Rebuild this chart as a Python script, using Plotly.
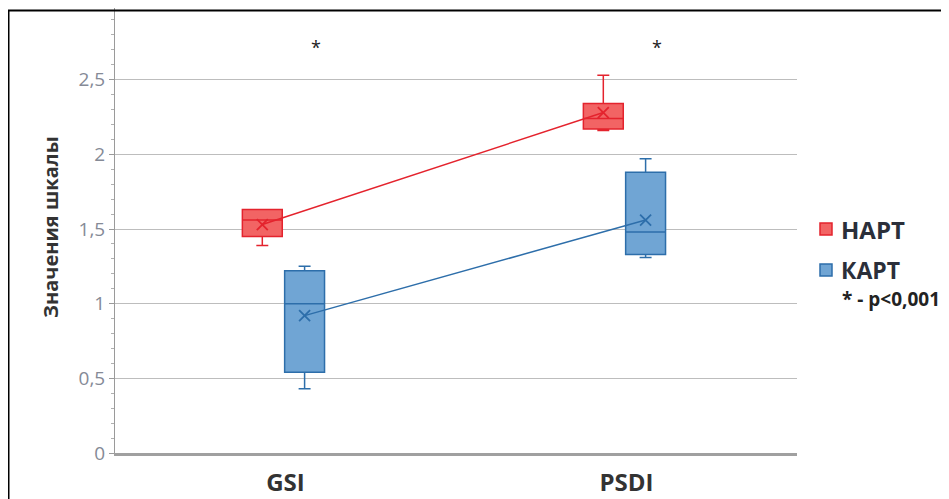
import plotly.graph_objects as go

categories = ["GSI", "PSDI"]
series_names = ["НАРТ", "КАРТ"]

hart_low = [1.39, 2.16]
hart_q1 = [1.45, 2.17]
hart_median = [1.56, 2.24]
hart_q3 = [1.63, 2.34]
hart_high = [1.63, 2.53]
hart_mean = [1.53, 2.28]

kart_low = [0.43, 1.31]
kart_q1 = [0.54, 1.33]
kart_median = [1.0, 1.48]
kart_q3 = [1.22, 1.88]
kart_high = [1.25, 1.97]
kart_mean = [0.92, 1.56]

y_ticks = [0, 0.5, 1, 1.5, 2, 2.5, 3]
y_title = "Значения шкалы"
sig_label = "*"
sig_level = 2.72
note_text = "* - p<0,001"

red_edge = "rgb(228,35,45)"
red_fill = "rgb(242,100,100)"
blue_edge = "rgb(45,110,170)"
blue_fill = "rgb(112,165,212)"

offsets = [-0.068, 0.056]
box_w = 0.117
idx = list(range(len(categories)))

# page is rendered with an 8px body margin; layout numbers below are page pixels
PL, PW, PB, PH = 115, 682, 453, 445


def px(x):
    return (x - PL) / PW


def py(y):
    return (PB - y) / PH


fig = go.Figure()

series = [
    (hart_low, hart_q1, hart_median, hart_q3, hart_high, hart_mean, red_edge, red_fill, offsets[0]),
    (kart_low, kart_q1, kart_median, kart_q3, kart_high, kart_mean, blue_edge, blue_fill, offsets[1]),
]
for name, (lo, q1, med, q3, hi, mn, edge, fill, off) in zip(series_names, series):
    xs = [i + off for i in idx]
    fig.add_trace(go.Box(
        x=xs, lowerfence=lo, q1=q1, median=med, q3=q3, upperfence=hi,
        width=box_w, whiskerwidth=0.3, fillcolor=fill,
        line=dict(color=edge, width=1.5), name=name, showlegend=False,
        hoverinfo="skip",
    ))
    fig.add_trace(go.Scatter(
        x=xs, y=mn, mode="lines+markers",
        line=dict(color=edge, width=1.5),
        marker=dict(symbol="x-thin-open", size=11, line=dict(color=edge, width=1.8)),
        showlegend=False, hoverinfo="skip",
    ))

# significance asterisks
for i in idx:
    fig.add_annotation(x=i + 0.09, y=sig_level, text=sig_label, showarrow=False,
                       font=dict(family="Open Sans", size=18, color="#222"))

# y axis title
fig.add_annotation(xref="paper", yref="paper", x=px(50), y=py(227), textangle=-90,
                   xanchor="center", yanchor="middle",
                   text="<b>%s</b>" % y_title, showarrow=False,
                   font=dict(family="Open Sans", size=20, color="#333"))

# legend (custom)
legend_items = [(series_names[0], red_edge, red_fill, 229, 24), (series_names[1], blue_edge, blue_fill, 270, 23)]
for label, edge, fill, cy, fs in legend_items:
    fig.add_shape(type="rect", xref="paper", yref="paper",
                  x0=px(820), x1=px(832), y0=py(cy + 6), y1=py(cy - 6),
                  fillcolor=fill, line=dict(color=edge, width=1.5))
    fig.add_annotation(xref="paper", yref="paper", x=px(839), y=py(cy),
                       xanchor="left", yanchor="middle", text="<b>%s</b>" % label,
                       showarrow=False,
                       font=dict(family="Open Sans", size=fs, color="#2b2f3a"))
fig.add_annotation(xref="paper", yref="paper", x=px(840), y=py(299),
                   xanchor="left", yanchor="middle", text="<b>%s</b>" % note_text,
                   showarrow=False,
                   font=dict(family="Open Sans", size=19, color="#222"))

# outer frame
fig.add_shape(type="rect", xref="paper", yref="paper",
              x0=px(8.5), x1=1.4, y0=-0.3, y1=py(10.5),
              line=dict(color="black", width=2), layer="above")

fig.update_layout(
    width=941, height=491,
    margin=dict(l=107, r=152, t=0, b=46),
    paper_bgcolor="white", plot_bgcolor="white",
    separators=", ",
    xaxis=dict(
        range=[-0.5, 1.5], tickmode="array", tickvals=idx, ticktext=["<b>%s</b>" % c for c in categories],
        showgrid=False, zeroline=False, showline=True, linecolor="#a0a0a0", linewidth=2.5,
        ticks="outside", ticklen=6, tickcolor="rgba(0,0,0,0)", automargin=False,
        tickfont=dict(family="Open Sans", size=24, color="#333"),
    ),
    yaxis=dict(
        range=[0, 2.98], tickmode="array", tickvals=y_ticks, automargin=False,
        showgrid=True, gridcolor="#bdbdbd", gridwidth=1, zeroline=False,
        showline=True, linecolor="#9a9a9a", linewidth=1,
        ticks="outside", ticklen=5, tickcolor="#9a9a9a",
        tickfont=dict(family="Open Sans", size=19, color="#858a96"),
        minor=dict(dtick=0.1, ticks="outside", ticklen=3, tickcolor="#b0b0b0", showgrid=False),
    ),
)

fig.write_html("out.html")
